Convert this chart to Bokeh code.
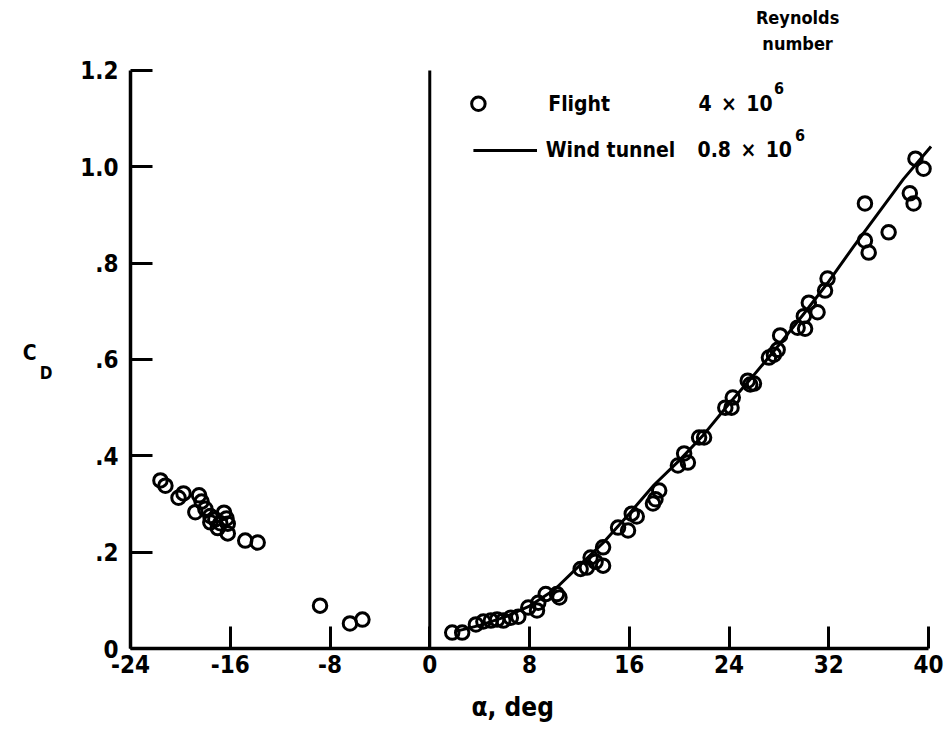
from bokeh.plotting import figure
from bokeh.models import Range1d, FixedTicker, Label, LinearAxis, Title
from bokeh.embed import file_html
from bokeh.resources import INLINE

# Drag coefficient vs angle of attack
flight_alpha = [
    -21.6, -21.2, -20.15, -19.75, -18.5, -18.3, -18.8, -18.0, -17.6, -17.6,
    -17.2, -17.0, -16.8, -16.5, -16.3, -16.2, -16.2, -14.8, -13.8,
    -8.8, -6.4, -5.4,
    1.8, 2.6, 3.7, 4.3, 4.9, 5.4, 5.9, 6.5, 7.1, 7.9, 8.6, 8.7, 9.3, 10.2, 10.4,
    12.1, 12.6, 12.9, 13.3, 13.9, 13.9,
    15.1, 15.9, 16.2, 16.6, 17.9, 18.1, 18.4,
    19.9, 20.4, 20.7, 21.6, 22.0,
    23.7, 24.2, 24.3, 25.5, 25.7, 26.0,
    27.2, 27.6, 27.9, 28.1, 29.5, 30.1, 30.0, 30.4, 31.1, 31.7, 31.9,
    34.9, 34.9, 35.2, 36.8, 38.5, 38.8, 38.95, 39.6,
]
flight_cd = [
    0.349, 0.338, 0.313, 0.322, 0.318, 0.305, 0.283, 0.290, 0.275, 0.262,
    0.268, 0.250, 0.260, 0.282, 0.270, 0.259, 0.239, 0.224, 0.220,
    0.089, 0.052, 0.060,
    0.033, 0.033, 0.050, 0.056, 0.058, 0.060, 0.058, 0.064, 0.066, 0.085, 0.079, 0.095, 0.113, 0.113, 0.106,
    0.165, 0.168, 0.189, 0.180, 0.210, 0.172,
    0.251, 0.245, 0.280, 0.274, 0.301, 0.310, 0.328,
    0.380, 0.405, 0.386, 0.438, 0.438,
    0.500, 0.500, 0.521, 0.556, 0.548, 0.550,
    0.604, 0.610, 0.620, 0.650, 0.666, 0.664, 0.690, 0.718, 0.698, 0.743, 0.768,
    0.924, 0.847, 0.822, 0.864, 0.945, 0.924, 1.017, 0.996,
]

tunnel_alpha = [2, 4, 6, 8, 10, 12, 14, 16, 18, 20, 22, 24, 26, 28, 30, 32, 34, 36, 38, 40.2]
tunnel_cd = [0.035, 0.048, 0.065, 0.088, 0.122, 0.172, 0.222, 0.280, 0.340, 0.390,
             0.445, 0.508, 0.568, 0.630, 0.695, 0.762, 0.835, 0.905, 0.975, 1.042]

x_ticks = [-24, -16, -8, 0, 8, 16, 24, 32, 40]
y_ticks = [0, 0.2, 0.4, 0.6, 0.8, 1.0, 1.2]
y_tick_labels = ["0", ".2", ".4", ".6", ".8", "1.0", "1.2"]

FONT = "DejaVu Sans Condensed"
INK = "black"

p = figure(width=945, height=738, output_backend="svg", toolbar_location=None,
           x_range=Range1d(-24, 41.2), y_range=Range1d(0, 1.3453),
           min_border_left=130, min_border_right=2, min_border_top=0,
           min_border_bottom=90)
p.outline_line_color = None
p.grid.visible = False
p.background_fill_color = "white"

for ax in (p.xaxis[0], p.yaxis[0]):
    ax.axis_line_width = 3.5
    ax.axis_line_color = INK
    ax.major_tick_line_width = 3
    ax.major_tick_line_color = INK
    ax.major_tick_in = 22
    ax.major_tick_out = 0
    ax.minor_tick_line_color = None
    ax.major_label_text_font = FONT
    ax.major_label_text_font_style = "bold"
    ax.major_label_text_font_size = "24px"
    ax.major_label_text_color = INK

p.xaxis.ticker = FixedTicker(ticks=x_ticks)
p.xaxis.bounds = (x_ticks[0], x_ticks[-1])
p.xaxis.major_label_standoff = 6
p.xaxis.major_label_overrides = {t: str(t) for t in x_ticks}

p.yaxis.ticker = FixedTicker(ticks=y_ticks)
p.yaxis.bounds = (y_ticks[0], y_ticks[-1])
p.yaxis.major_label_standoff = 12
p.yaxis.major_label_overrides = dict(zip(y_ticks, y_tick_labels))

# x-axis title
p.add_layout(Title(text="α, deg", align="left", offset=341, standoff=28,
                   text_font=FONT, text_font_style="bold", text_font_size="26px",
                   text_color=INK), "below")


def title_axis(text, size, standoff):
    """Bare axis carrying a horizontal title beside the plot frame."""
    return LinearAxis(ticker=FixedTicker(ticks=[]), axis_line_color=None,
                      major_tick_line_color=None, minor_tick_line_color=None,
                      major_label_text_font_size="0px",
                      axis_label=text, axis_label_standoff=standoff,
                      axis_label_orientation="horizontal",
                      axis_label_text_font=FONT, axis_label_text_font_style="bold",
                      axis_label_text_font_size=size, axis_label_text_color=INK)


# C_D: subscript sits lower and to the right of the C
p.add_layout(title_axis("\n\n\n\nD", "17px", 25), "left")
p.add_layout(title_axis("\n\nC", "21px", 0), "left")

# zero-alpha reference line
p.segment(x0=0, y0=y_ticks[0], x1=0, y1=y_ticks[-1], line_color=INK, line_width=3)

# wind tunnel curve and flight points
p.line(tunnel_alpha, tunnel_cd, line_color=INK, line_width=3)
p.scatter(flight_alpha, flight_cd, marker="circle", size=13.5, fill_color="white",
          fill_alpha=0.0, line_color=INK, line_width=3)


# key
def txt(x, y, s, size="21px", align="left", baseline="middle"):
    p.add_layout(Label(x=x, y=y, text=s, text_font=FONT, text_font_style="bold",
                       text_font_size=size, text_align=align, text_baseline=baseline,
                       text_color=INK))


txt(29.5, 1.310, "Reynolds", size="18px", align="center")
txt(29.5, 1.257, "number", size="18px", align="center")
p.scatter([3.9], [1.131], marker="circle", size=13.5, fill_alpha=0.0,
          line_color=INK, line_width=3)
txt(9.5, 1.131, "Flight")
txt(21.55, 1.131, "4\u2002×\u200210")
txt(27.6, 1.163, "6", size="16px")
p.line([3.5, 8.6], [1.034, 1.034], line_color=INK, line_width=3)
txt(9.3, 1.034, "Wind tunnel")
txt(21.47, 1.034, "0.8\u2002×\u200210")
txt(29.3, 1.066, "6", size="16px")

open("out.html", "w").write(file_html(p, INLINE))
